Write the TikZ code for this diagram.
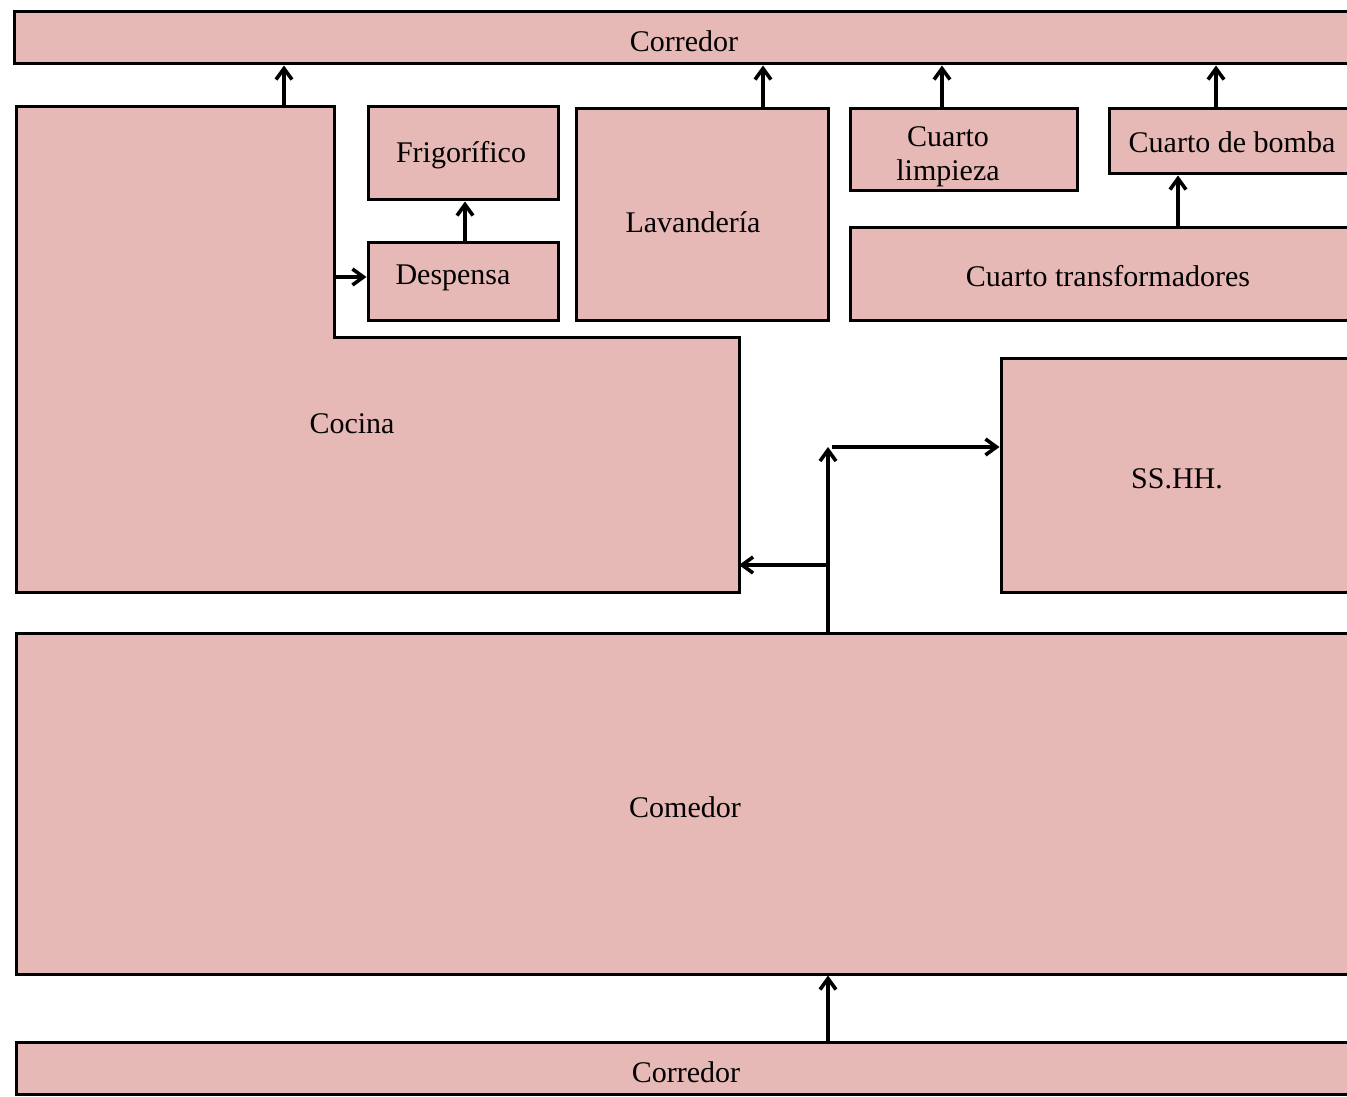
\documentclass[tikz,border=0pt]{standalone}
\usepackage{fontspec}
\setmainfont{Liberation Serif}
\usetikzlibrary{arrows.meta,fit}
\definecolor{roomfill}{RGB}{231,185,182}
\begin{document}
\begin{tikzpicture}[x=0.5pt,y=-0.5pt,
  room/.style={draw=black, fill=roomfill, line width=1.5pt, inner sep=0pt},
  lbl/.style={font=\fontsize{15}{17}\selectfont, inner sep=0pt, align=center},
  arr/.style={line width=1.8pt, -{Straight Barb[length=5.5pt,width=8pt,line width=1.8pt]}}]
\clip (0,0) rectangle (1347,1096);
\fill[white] (0,0) rectangle (1347,1096);
% rooms
\node[room, fit={(14,12) (1380,64)}] (corrT) {};
\draw[room] (16,107) -- (334,107) -- (334,337) -- (739,337) -- (739,592) -- (16,592) -- cycle;
\node[room, fit={(368,107) (558,200)}] (frig) {};
\node[room, fit={(368,243) (558,321)}] (desp) {};
\node[room, fit={(576,109) (828,321)}] (lav) {};
\node[room, fit={(850,109) (1077,191)}] (limp) {};
\node[room, fit={(1109,109) (1380,174)}] (bomb) {};
\node[room, fit={(850,228) (1380,321)}] (trans) {};
\node[room, fit={(1001,358) (1380,592)}] (ss) {};
\node[room, fit={(16,633) (1380,974)}] (com) {};
\node[room, fit={(16,1042) (1380,1094)}] (corrB) {};
% labels
\node[lbl] (tCorrT) at (684,41) {Corredor};
\node[lbl] (tCoc) at (352,424) {Cocina};
\node[lbl] (tFrig) at (461,155) {Frigorífico};
\node[lbl] (tDesp) at (453,278) {Despensa};
\node[lbl] (tLav) at (693,222) {Lavandería};
\node[lbl] (tLimp) at (948,157) {Cuarto\\limpieza};
\node[lbl] (tBomb) at (1232,142) {Cuarto de bomba};
\node[lbl] (tTrans) at (1108,276) {Cuarto transformadores};
\node[lbl] (tSS) at (1177,479) {SS.HH.};
\node[lbl] (tCom) at (685,807) {Comedor};
\node[lbl] (tCorrB) at (686,1072) {Corredor};
% connector anchors
\coordinate (cocTop) at (284,107);
\coordinate (cocR) at (334,277);
\coordinate (cocE) at (739,565);
\coordinate (despTop) at (465,243);
\coordinate (lavTop) at (763,109);
\coordinate (limpTop) at (942,109);
\coordinate (bombTop) at (1216,109);
\coordinate (transTop) at (1178,228);
\coordinate (comTop) at (828,633);
\coordinate (ssTurn) at (832,447);
\coordinate (corrBTop) at (828,1042);
% connectors
\draw[arr] (cocTop) -- (cocTop |- corrT.south);
\draw[arr] (cocR) -- (cocR -| desp.west);
\draw[arr] (despTop) -- (despTop |- frig.south);
\draw[arr] (lavTop) -- (lavTop |- corrT.south);
\draw[arr] (limpTop) -- (limpTop |- corrT.south);
\draw[arr] (bombTop) -- (bombTop |- corrT.south);
\draw[arr] (transTop) -- (transTop |- bomb.south);
\draw[arr] (comTop) -- (comTop |- ssTurn);
\draw[arr] (ssTurn) -- (ssTurn -| ss.west);
\draw[arr] (comTop |- cocE) -- (cocE);
\draw[arr] (corrBTop) -- (corrBTop |- com.south);
\end{tikzpicture}
\end{document}
